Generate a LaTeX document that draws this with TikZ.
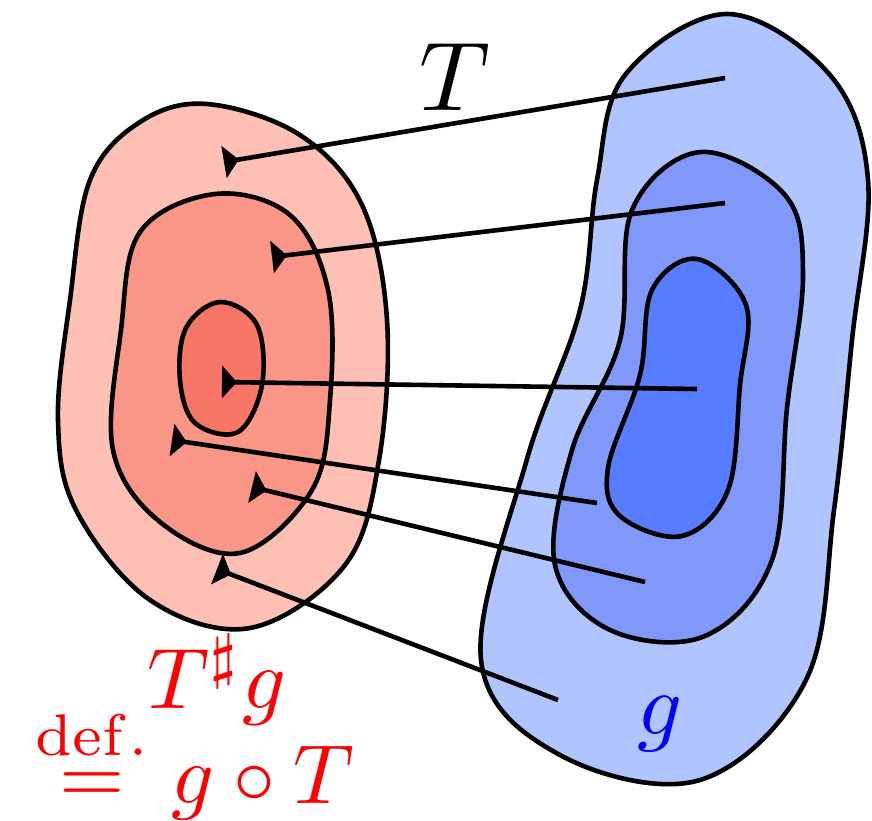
\documentclass[tikz,border=0pt]{standalone}
\usetikzlibrary{arrows.meta}
\definecolor{rA}{RGB}{254,191,181}
\definecolor{rB}{RGB}{250,150,136}
\definecolor{rC}{RGB}{247,118,104}
\definecolor{bA}{RGB}{176,196,255}
\definecolor{bB}{RGB}{128,152,250}
\definecolor{bC}{RGB}{88,124,255}
\tikzset{
  blob/.style={draw=black,line width=4.6pt,smooth cycle,tension=0.6},
  mapline/.style={line width=4.6pt,{Stealth[reversed,inset=0pt,length=15pt,width=32pt]}-},
  big/.style={transform shape,scale=#1,inner sep=0pt},
}
\begin{document}
\begin{tikzpicture}[x=1pt,y=-1pt]
\useasboundingbox (0,0) rectangle (872,820);
% red blobs
\fill[rA,blob] plot coordinates {(207,104) (300,135) (362,205) (387,320) (379,460) (345,565) (250,628) (150,600) (76,510) (58,420) (70,300) (90,180) (140,122)};
\fill[rB,blob] plot coordinates {(215,194) (290,215) (328,290) (330,400) (312,490) (240,553) (160,522) (113,450) (121,330) (140,232)};
\fill[rC,blob] plot coordinates {(220,302) (257,325) (262,385) (238,432) (195,423) (180,380) (186,328)};
% blue blobs
\fill[bA,blob] plot coordinates {(727,14) (830,75) (868,180) (852,340) (834,510) (806,680) (700,780) (560,755) (481,660) (527,459) (580,310) (597,180) (625,75)};
\fill[bB,blob] plot coordinates {(700,152) (785,195) (803,275) (787,408) (772,560) (705,636) (610,630) (555,565) (572,450) (620,340) (632,210)};
\fill[bC,blob] plot coordinates {(697,259) (746,305) (740,385) (728,490) (682,536) (620,516) (608,468) (640,375) (652,290)};
% endpoints
\coordinate (a1) at (224,162); \coordinate (b1) at (725,78);
\coordinate (a2) at (272,257); \coordinate (b2) at (725,203);
\coordinate (a3) at (222,382); \coordinate (b3) at (697,389);
\coordinate (a4) at (172,440); \coordinate (b4) at (597,503);
\coordinate (a5) at (252,487); \coordinate (b5) at (645,582);
\coordinate (a6) at (217,569); \coordinate (b6) at (558,700);
\foreach \i in {1,...,6} {\draw[mapline] (a\i) -- (b\i);}
% labels
\node[big=9.8,anchor=base] (lT) at (455,110) {$T$};
\node[big=8.8,text=blue,anchor=base] (lg) at (660,734) {$g$};
\node[big=8.6,text=red,anchor=base] (lpush) at (217,708) {$T^\sharp g$};
\node[big=8.4,text=red,anchor=base] (ldef) at (195,803) {$\stackrel{\mathrm{def.}}{=}g\circ T$};
\end{tikzpicture}
\end{document}
